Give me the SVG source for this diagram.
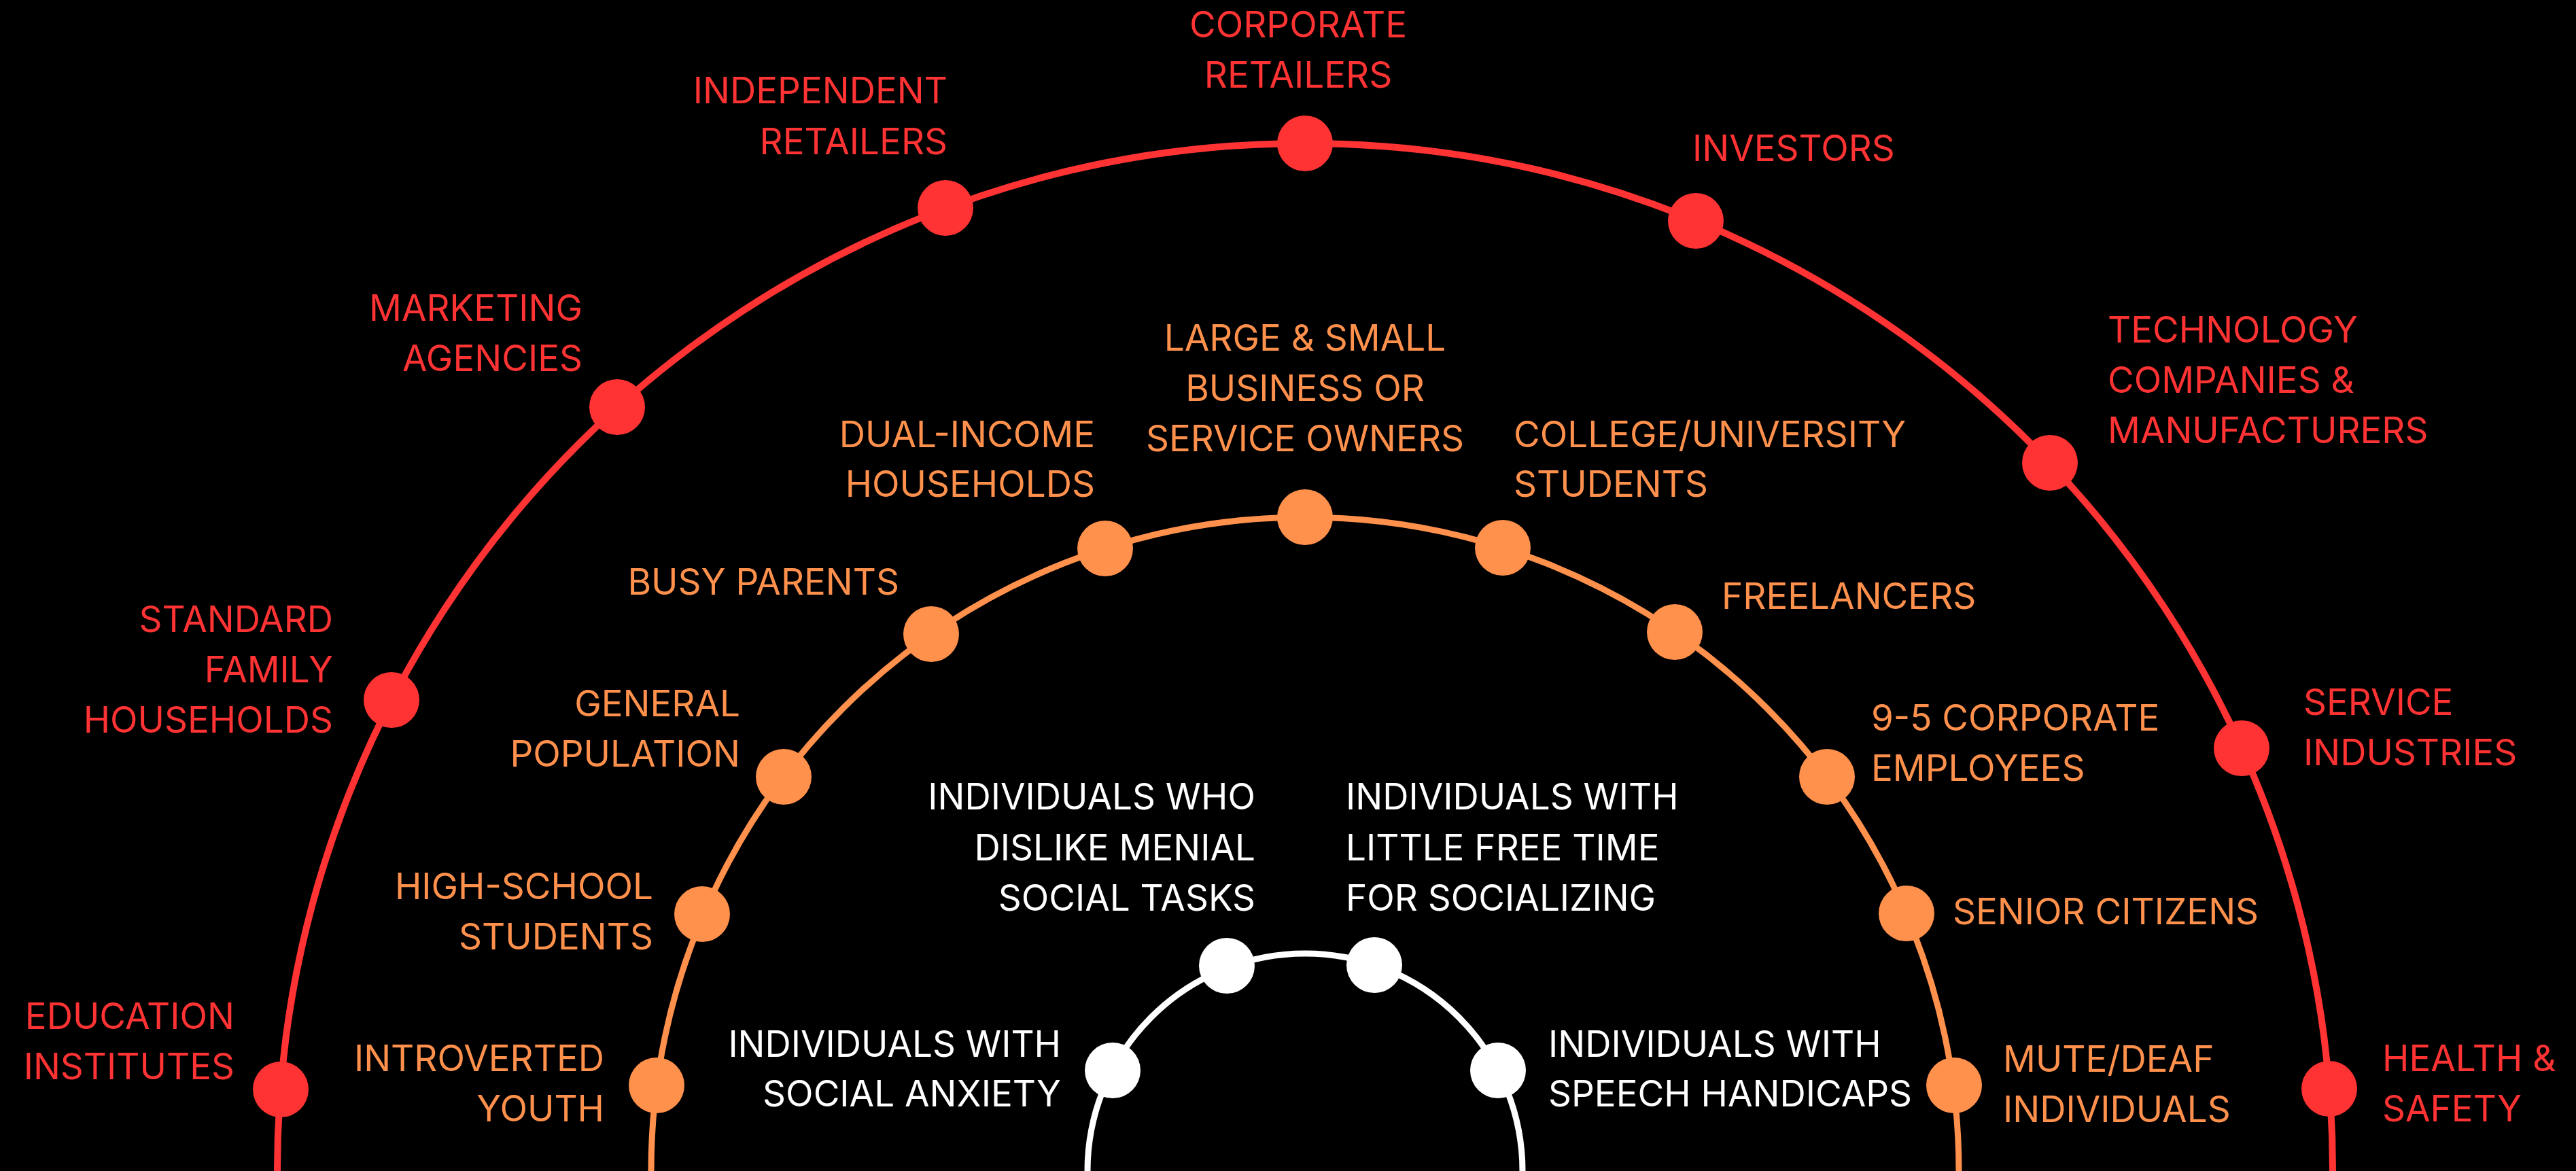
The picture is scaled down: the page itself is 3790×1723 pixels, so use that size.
<svg xmlns="http://www.w3.org/2000/svg" width="3790" height="1723" viewBox="0 0 3790 1723">
<style>
text{font-family:Inter,"Liberation Sans",sans-serif;font-size:53px;font-weight:400}
.r{fill:#FF3333}.o{fill:#FF914D}.w{fill:#FFFFFF}
.e{text-anchor:end}.s{text-anchor:start}.m{text-anchor:middle}
.arc{fill:none}
</style>
<rect width="3790" height="1723" fill="#000"/>
<g id="connectors" class="arc">
<path d="M 408 1723 A 1512 1512 0 0 1 3432 1723" stroke="#FF3333" stroke-width="10"/>
<path d="M 958 1723 A 962 962 0 0 1 2882 1723" stroke="#FF914D" stroke-width="9"/>
<path d="M 1600 1723 A 320 320 0 0 1 2240 1723" stroke="#FFFFFF" stroke-width="9"/>
</g>
<g id="n-education" class="r"><circle cx="413" cy="1603" r="41"/><text class="e" x="345" y="1514">EDUCATION</text><text class="e" x="345" y="1588">INSTITUTES</text></g>
<g id="n-standard" class="r"><circle cx="576" cy="1030" r="41"/><text class="e" x="490" y="930">STANDARD</text><text class="e" x="490" y="1004">FAMILY</text><text class="e" x="490" y="1078">HOUSEHOLDS</text></g>
<g id="n-marketing" class="r"><circle cx="908" cy="599" r="41"/><text class="e" x="857" y="472">MARKETING</text><text class="e" x="857" y="546">AGENCIES</text></g>
<g id="n-independent" class="r"><circle cx="1391" cy="306" r="41"/><text class="e" x="1394" y="152">INDEPENDENT</text><text class="e" x="1394" y="227">RETAILERS</text></g>
<g id="n-corporate" class="r"><circle cx="1920" cy="211" r="41"/><text class="m" x="1910" y="55">CORPORATE</text><text class="m" x="1910" y="129">RETAILERS</text></g>
<g id="n-investors" class="r"><circle cx="2495" cy="325" r="41"/><text class="s" x="2490" y="237">INVESTORS</text></g>
<g id="n-technology" class="r"><circle cx="3016" cy="681" r="41"/><text class="s" x="3101" y="504">TECHNOLOGY</text><text class="s" x="3101" y="578">COMPANIES &amp;</text><text class="s" x="3101" y="652">MANUFACTURERS</text></g>
<g id="n-service" class="r"><circle cx="3298" cy="1101" r="41"/><text class="s" x="3389" y="1052">SERVICE</text><text class="s" x="3389" y="1126">INDUSTRIES</text></g>
<g id="n-health" class="r"><circle cx="3427" cy="1602" r="41"/><text class="s" x="3505" y="1576">HEALTH &amp;</text><text class="s" x="3505" y="1650">SAFETY</text></g>
<g id="n-introverted" class="o"><circle cx="966" cy="1597" r="41"/><text class="e" x="889" y="1576">INTROVERTED</text><text class="e" x="889" y="1650">YOUTH</text></g>
<g id="n-highschool" class="o"><circle cx="1033" cy="1345" r="41"/><text class="e" x="961" y="1323">HIGH-SCHOOL</text><text class="e" x="961" y="1397">STUDENTS</text></g>
<g id="n-general" class="o"><circle cx="1153" cy="1143" r="41"/><text class="e" x="1089" y="1054">GENERAL</text><text class="e" x="1089" y="1128">POPULATION</text></g>
<g id="n-busy" class="o"><circle cx="1370" cy="933" r="41"/><text class="e" x="1323" y="875">BUSY PARENTS</text></g>
<g id="n-dual" class="o"><circle cx="1626" cy="807" r="41"/><text class="e" x="1611" y="658">DUAL-INCOME</text><text class="e" x="1611" y="731">HOUSEHOLDS</text></g>
<g id="n-business" class="o"><circle cx="1920" cy="761" r="41"/><text class="m" x="1920" y="516">LARGE &amp; SMALL</text><text class="m" x="1920" y="590">BUSINESS OR</text><text class="m" x="1920" y="664">SERVICE OWNERS</text></g>
<g id="n-college" class="o"><circle cx="2211" cy="806" r="41"/><text class="s" x="2227" y="658">COLLEGE/UNIVERSITY</text><text class="s" x="2227" y="731">STUDENTS</text></g>
<g id="n-freelancers" class="o"><circle cx="2464" cy="930" r="41"/><text class="s" x="2533" y="896">FREELANCERS</text></g>
<g id="n-corporate-employees" class="o"><circle cx="2688" cy="1143" r="41"/><text class="s" x="2753" y="1075">9-5 CORPORATE</text><text class="s" x="2753" y="1149">EMPLOYEES</text></g>
<g id="n-senior" class="o"><circle cx="2805" cy="1344" r="41"/><text class="s" x="2873" y="1360">SENIOR CITIZENS</text></g>
<g id="n-mute" class="o"><circle cx="2875" cy="1597" r="41"/><text class="s" x="2947" y="1577">MUTE/DEAF</text><text class="s" x="2947" y="1651">INDIVIDUALS</text></g>
<g id="n-anxiety" class="w"><circle cx="1637" cy="1575" r="41"/><text class="e" x="1561" y="1555">INDIVIDUALS WITH</text><text class="e" x="1561" y="1628">SOCIAL ANXIETY</text></g>
<g id="n-menial" class="w"><circle cx="1805" cy="1421" r="41"/><text class="e" x="1847" y="1191">INDIVIDUALS WHO</text><text class="e" x="1847" y="1266">DISLIKE MENIAL</text><text class="e" x="1847" y="1340">SOCIAL TASKS</text></g>
<g id="n-freetime" class="w"><circle cx="2022" cy="1420" r="41"/><text class="s" x="1980" y="1191">INDIVIDUALS WITH</text><text class="s" x="1980" y="1266">LITTLE FREE TIME</text><text class="s" x="1980" y="1340">FOR SOCIALIZING</text></g>
<g id="n-speech" class="w"><circle cx="2204" cy="1575" r="41"/><text class="s" x="2278" y="1555">INDIVIDUALS WITH</text><text class="s" x="2278" y="1628">SPEECH HANDICAPS</text></g>
</svg>
